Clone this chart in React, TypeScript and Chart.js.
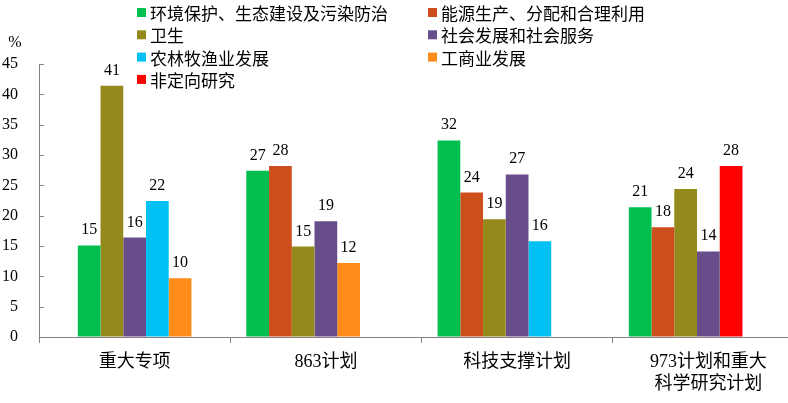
import React, { useRef, useEffect } from 'react';
import { Chart, registerables, Plugin } from 'chart.js';

Chart.register(...registerables);

const categories: (string | string[])[] = [
  '重大专项',
  '863计划',
  '科技支撑计划',
  ['973计划和重大', '科学研究计划'],
];

const seriesLabels = [
  '环境保护、生态建设及污染防治',
  '能源生产、分配和合理利用',
  '卫生',
  '社会发展和社会服务',
  '农林牧渔业发展',
  '工商业发展',
  '非定向研究',
];

// values in %, per category (null = not present in that programme)
const envProtection = [15.1, 27.4, 32.4, 21.4];
const energy = [null, 28.2, 23.8, 18.1];
const health = [41.4, 14.9, 19.4, 24.4];
const socialDev = [16.4, 19.1, 26.8, 14.1];
const agriculture = [22.4, null, 15.8, null];
const industry = [9.7, 12.2, null, null];
const nonOriented = [null, null, null, 28.2];

const yTicks = [0, 5, 10, 15, 20, 25, 30, 35, 40, 45];

const seriesValues: (number | null)[][] = [
  envProtection, energy, health, socialDev, agriculture, industry, nonOriented,
];

const seriesColors = [
  '#00bf4f', '#cc4e1a', '#948a1c', '#674e8a', '#00c0f4', '#ff8c1a', '#ff0000',
];

const axisColor = '#8a7f7f';
const serif = '"Liberation Serif", "Noto Sans CJK SC", serif';
const cjk = '"Noto Sans CJK SC", sans-serif';

// bars in each group sit side by side in 7 slots; first group starts one slot in
const slotCount = 7;
const slotStart = [1, 0, 0, 0];

function buildSlots() {
  const data: (number | null)[][] = [];
  const colors: string[][] = [];
  for (let s = 0; s < slotCount; s++) {
    data.push(categories.map(() => null));
    colors.push(categories.map(() => 'transparent'));
  }
  categories.forEach((_, j) => {
    let slot = slotStart[j];
    seriesValues.forEach((vals, k) => {
      const v = vals[j];
      if (v == null) return;
      data[slot][j] = v;
      colors[slot][j] = seriesColors[k];
      slot++;
    });
  });
  return data.map((d, s) => ({
    label: 'slot' + s,
    data: d,
    backgroundColor: colors[s],
    borderWidth: 0,
    barPercentage: 1,
    categoryPercentage: 0.832,
  }));
}

const overlayPlugin: Plugin = {
  id: 'overlay',
  afterDatasetsDraw(chart) {
    const ctx = chart.ctx;
    ctx.save();
    ctx.font = '16px ' + serif;
    ctx.fillStyle = '#000';
    ctx.textAlign = 'center';
    ctx.textBaseline = 'alphabetic';
    chart.data.datasets.forEach((ds, i) => {
      const meta = chart.getDatasetMeta(i);
      meta.data.forEach((bar: any, j) => {
        const v = ds.data[j] as number | null;
        if (v == null) return;
        ctx.fillText(String(Math.round(v)), bar.x, bar.y - 11);
      });
    });
    ctx.restore();
  },
  afterDraw(chart) {
    const ctx = chart.ctx;
    const y = chart.scales.y;
    const left = chart.chartArea.left;
    ctx.save();
    // inward tick marks on the value axis
    ctx.strokeStyle = axisColor;
    ctx.lineWidth = 1;
    y.ticks.forEach((_, i) => {
      const py = Math.round(y.getPixelForTick(i)) + 0.5;
      ctx.beginPath();
      ctx.moveTo(left, py);
      ctx.lineTo(left + 5, py);
      ctx.stroke();
    });
    // unit
    ctx.fillStyle = '#000';
    ctx.font = '16px ' + serif;
    ctx.textAlign = 'center';
    ctx.textBaseline = 'middle';
    ctx.fillText('%', 15, 43);
    // legend, two columns
    ctx.font = '17px ' + cjk;
    ctx.textAlign = 'left';
    const colX = [137, 428];
    seriesLabels.forEach((label, i) => {
      const x = colX[i % 2];
      const cy = 12.5 + Math.floor(i / 2) * 22.3;
      ctx.fillStyle = seriesColors[i];
      ctx.fillRect(x, cy - 4.5, 9, 9);
      ctx.fillStyle = '#000';
      ctx.fillText(label, x + 13, cy + 1);
    });
    ctx.restore();
  },
};

const App: React.FC = () => {
  const chartRef = useRef<HTMLCanvasElement | null>(null);
  const chartInstance = useRef<Chart | null>(null);

  useEffect(() => {
    if (!chartRef.current) return;
    if (chartInstance.current) chartInstance.current.destroy();
    const ctx = chartRef.current.getContext('2d');
    if (!ctx) return;

    chartInstance.current = new Chart(ctx, {
      type: 'bar',
      data: {
        labels: categories,
        datasets: buildSlots(),
      },
      options: {
        responsive: false,
        animation: false,
        layout: { padding: { top: 64, left: 0, right: 0, bottom: 0 } },
        plugins: {
          legend: { display: false },
          tooltip: { enabled: false },
        },
        scales: {
          x: {
            afterFit: (scale: any) => {
              scale.height = 66;
            },
            border: { display: true, color: axisColor, width: 1 },
            grid: {
              display: true,
              offset: true,
              drawOnChartArea: false,
              drawTicks: true,
              tickLength: 6,
              color: axisColor,
            },
            ticks: {
              color: '#000',
              padding: 8,
              maxRotation: 0,
              autoSkip: false,
              font: { family: serif, size: 18, lineHeight: 1.22 },
            },
          },
          y: {
            min: 0,
            max: 45,
            afterFit: (scale: any) => {
              scale.width = 39;
            },
            afterBuildTicks: (scale: any) => {
              scale.ticks = yTicks.map((v) => ({ value: v }));
            },
            border: { display: true, color: axisColor, width: 1 },
            grid: { display: true, drawOnChartArea: false, drawTicks: false },
            ticks: {
              color: '#000',
              padding: 21,
              font: { family: serif, size: 16 },
            },
          },
        },
      },
      plugins: [overlayPlugin],
    });

    return () => {
      if (chartInstance.current) {
        chartInstance.current.destroy();
        chartInstance.current = null;
      }
    };
  }, []);

  return (
    <div
      style={{
        position: 'absolute',
        left: 0,
        top: 0,
        width: 788,
        height: 403,
        overflow: 'hidden',
        background: '#fff',
      }}
    >
      <canvas ref={chartRef} width={804} height={403} style={{ display: 'block' }} />
    </div>
  );
};

export default App;
